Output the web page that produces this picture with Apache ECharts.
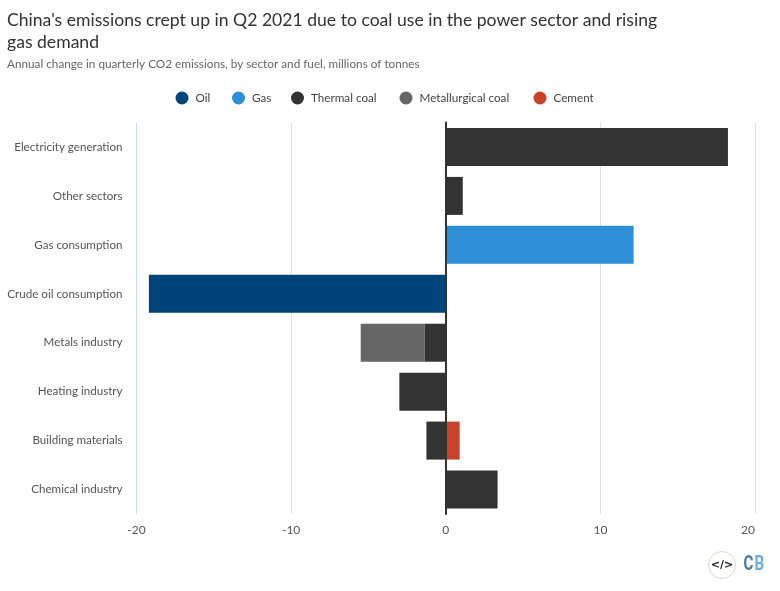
<!DOCTYPE html>
<html>
<head>
<meta charset="utf-8">
<style>html,body{margin:0;padding:0;background:#fff}#chart{width:780px;height:591px}</style>
<script src="https://cdn.jsdelivr.net/npm/echarts@6/dist/echarts.min.js"></script>
</head>
<body>
<div id="chart"></div>
<script>
const categories = ['Electricity generation', 'Other sectors', 'Gas consumption', 'Crude oil consumption',
  'Metals industry', 'Heating industry', 'Building materials', 'Chemical industry']
const oil = [null, null, null, -19.2, null, null, null, null]
const gas = [null, null, 12.15, null, null, null, null, null]
const thermalCoal = [18.25, 1.1, null, null, -1.35, -3.0, -1.25, 3.35]
const metCoal = [null, null, null, null, -4.15, null, null, null]
const cement = [null, null, null, null, null, null, 0.9, null]

const FONT = 'Lato'
const chart = echarts.init(document.getElementById('chart'))

function bar(name, data, color) {
  return {name, type: 'bar', stack: 'total', data, barWidth: 38, itemStyle: {color}}
}

// one legend per fuel, the gaps in the original are not even
function legendItem(name, left) {
  return {
    data: [name], left, top: 91.5, padding: 0,
    icon: 'circle', itemWidth: 13, itemHeight: 13,
    textStyle: {fontFamily: FONT, fontSize: 11.7, color: '#444', padding: [1, 0, 0, 2]},
    selectedMode: false
  }
}

chart.setOption({
  animation: false,
  textStyle: {fontFamily: FONT},
  title: [
    {
      text: "China's emissions crept up in Q2 2021 due to coal use in the power sector and rising\ngas demand",
      left: 7, top: 10, padding: 0,
      textStyle: {fontFamily: FONT, fontSize: 17.6, fontWeight: 'normal', color: '#333', lineHeight: 21.5}
    },
    {
      text: 'Annual change in quarterly CO2 emissions, by sector and fuel, millions of tonnes',
      left: 7, top: 58, padding: 0,
      textStyle: {fontFamily: FONT, fontSize: 11.75, fontWeight: 'normal', color: '#666'}
    }
  ],
  legend: [
    legendItem('Oil', 175.5),
    legendItem('Gas', 232),
    legendItem('Thermal coal', 291),
    legendItem('Metallurgical coal', 399.5),
    legendItem('Cement', 533.5)
  ],
  grid: {left: 136.5, right: 25, top: 122.5, bottom: 77},
  xAxis: {
    type: 'value', min: -20, max: 20, interval: 10,
    axisLine: {show: false}, axisTick: {show: false},
    axisLabel: {color: '#555', fontSize: 12, margin: 10, fontFamily: FONT, alignMaxLabel: 'right'},
    splitLine: {lineStyle: {color: ['#c5dcea', '#e2e2e2', '#e2e2e2', '#e2e2e2', '#e2e2e2'], width: 1}}
  },
  yAxis: {
    type: 'category', data: categories, inverse: true, z: 5,
    axisTick: {show: false},
    axisLine: {onZero: true, lineStyle: {color: '#333', width: 2}},
    axisLabel: {color: '#555', fontSize: 11.6, fontFamily: FONT, margin: 14, padding: [3, 0, 0, 0]}
  },
  series: [
    bar('Oil', oil, '#00457a'),
    bar('Gas', gas, '#2f8fd6'),
    bar('Thermal coal', thermalCoal, '#333333'),
    bar('Metallurgical coal', metCoal, '#666666'),
    bar('Cement', cement, '#c7422a')
  ],
  graphic: [
    {type: 'circle', shape: {cx: 722, cy: 565, r: 13.5}, style: {fill: '#fff', stroke: '#ddd6d0', lineWidth: 1}},
    {type: 'text', x: 722, y: 565, style: {text: '</>', fontFamily: 'DejaVu Sans', fontWeight: 'bold', fontSize: 11, fill: '#222', align: 'center', verticalAlign: 'middle'}},
    {type: 'text', x: 743.5, y: 565, scaleX: 0.72, style: {text: 'C', fontFamily: 'Roboto', fontWeight: 'bold', fontSize: 21, fill: '#4a7aa8', verticalAlign: 'middle'}},
    {type: 'text', x: 754.5, y: 565, scaleX: 0.72, style: {text: 'B', fontFamily: 'Roboto', fontWeight: 'bold', fontSize: 21, fill: '#6aaee0', verticalAlign: 'middle'}}
  ]
})
</script>
</body>
</html>
